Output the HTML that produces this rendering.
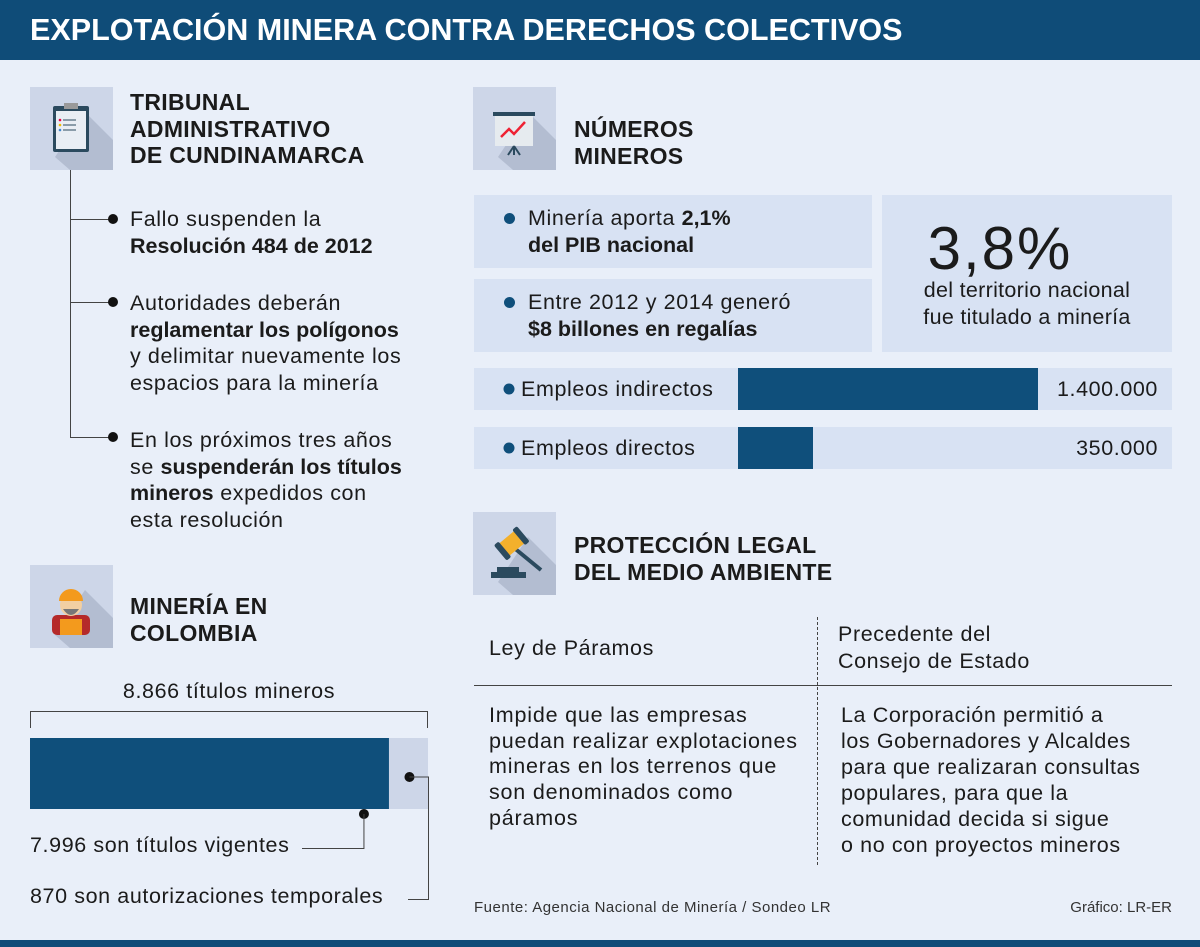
<!DOCTYPE html>
<html><head><meta charset="utf-8">
<style>
*{margin:0;padding:0;box-sizing:border-box}
body{width:1200px;height:947px;background:#e9eff9;font-family:"Liberation Sans",sans-serif;color:#1b1b1b;position:relative;overflow:hidden}
.a{position:absolute;white-space:nowrap}
.t{font-size:21.5px;line-height:26.5px;font-weight:normal;letter-spacing:0.6px}
.b{font-weight:bold;letter-spacing:0}
.h{font-size:23px;line-height:26.5px;font-weight:bold;letter-spacing:0.3px}
.ic{position:absolute;width:83px;height:83px;background:#cdd6e8;overflow:hidden}
.dot{position:absolute;width:10px;height:10px;border-radius:50%;background:#111}
.bdot{position:absolute;width:11px;height:11px;border-radius:50%;background:#0f4f7b}
.box{position:absolute;background:#d8e2f3}
</style></head><body>
<div class="a" style="left:0;top:0;width:1200px;height:60px;background:#0f4c78"></div>
<div class="a" style="left:30px;top:12px;font-size:31px;font-weight:bold;color:#fff;transform:scaleX(0.985);transform-origin:left">EXPLOTACIÓN MINERA CONTRA DERECHOS COLECTIVOS</div>

<!-- Tribunal -->
<div class="ic" style="left:30px;top:87px">
<svg width="83" height="83"><polygon points="55,25 83,53 83,83 40,83 25,70" fill="#b3bdd1"/><rect x="23" y="19" width="36" height="46" rx="2" fill="#2b4a5e"/><rect x="26" y="24" width="30" height="38" fill="#e9eef4"/><rect x="34" y="16" width="14" height="6" fill="#999"/><circle cx="30" cy="33" r="1.3" fill="#e04"/><line x1="33" y1="33" x2="46" y2="33" stroke="#2b4a5e"/><circle cx="30" cy="38" r="1.3" fill="#eb0"/><line x1="33" y1="38" x2="46" y2="38" stroke="#2b4a5e"/><circle cx="30" cy="43" r="1.3" fill="#48c"/><line x1="33" y1="43" x2="46" y2="43" stroke="#2b4a5e"/></svg></div>
<div class="a h" style="left:130px;top:89px">TRIBUNAL<br>ADMINISTRATIVO<br>DE CUNDINAMARCA</div>
<div class="a" style="left:70px;top:170px;width:1px;height:268px;background:#444"></div>
<div class="a" style="left:70px;top:219px;width:42px;height:1px;background:#444"></div>
<div class="a" style="left:70px;top:302px;width:42px;height:1px;background:#444"></div>
<div class="a" style="left:70px;top:437px;width:42px;height:1px;background:#444"></div>
<div class="dot" style="left:108px;top:214px"></div>
<div class="dot" style="left:108px;top:297px"></div>
<div class="dot" style="left:108px;top:432px"></div>
<div class="a t" style="left:130px;top:206px">Fallo suspenden la<br><span class="b">Resolución 484 de 2012</span></div>
<div class="a t" style="left:130px;top:290px">Autoridades deberán<br><span class="b">reglamentar los polígonos</span><br>y delimitar nuevamente los<br>espacios para la minería</div>
<div class="a t" style="left:130px;top:427px">En los próximos tres años<br>se <span class="b">suspenderán los títulos</span><br><span class="b">mineros</span> expedidos con<br>esta resolución</div>

<!-- Mineria en Colombia -->
<div class="ic" style="left:30px;top:565px">
<svg width="83" height="83"><polygon points="55,25 83,53 83,83 40,83 25,70" fill="#b3bdd1"/><rect x="22" y="50" width="38" height="20" rx="5" fill="#b52a2a"/><rect x="30" y="54" width="22" height="16" fill="#f39a1d"/><circle cx="41" cy="40" r="11" fill="#f2cfa2"/><path d="M33,44 Q41,56 49,44" fill="#777"/><path d="M29,36 A12,12 0 0 1 53,36 Z" fill="#f39a1d"/></svg></div>
<div class="a h" style="left:130px;top:593px">MINERÍA EN<br>COLOMBIA</div>
<div class="a t" style="left:30px;width:398px;text-align:center;top:678px">8.866 títulos mineros</div>
<svg class="a" id="tsvg" style="left:0;top:0" width="450" height="947"></svg>
<div class="a t" style="left:30px;top:832px">7.996 son títulos vigentes</div>
<div class="a t" style="left:30px;top:883px">870 son autorizaciones temporales</div>

<!-- Numeros mineros -->
<div class="ic" style="left:473px;top:87px">
<svg width="83" height="83"><polygon points="55,25 83,53 83,83 40,83 25,70" fill="#b3bdd1"/><rect x="20" y="25" width="42" height="4" fill="#2b4a5e"/><rect x="22" y="29" width="38" height="30" fill="#e6ebef"/><polyline points="28,50 36,42 41,47 52,35" fill="none" stroke="#e23" stroke-width="2.5"/><path d="M41,59 V68 M41,59 L35,68 M41,59 L47,68" stroke="#2b4a5e" stroke-width="2"/></svg></div>
<div class="a h" style="left:574px;top:116px">NÚMEROS<br>MINEROS</div>
<div class="box" style="left:474px;top:195px;width:398px;height:73px"></div>
<div class="bdot" style="left:504px;top:213px"></div>
<div class="a t" style="left:528px;top:205px">Minería aporta <span class="b">2,1%</span><br><span class="b">del PIB nacional</span></div>
<div class="box" style="left:474px;top:279px;width:398px;height:73px"></div>
<div class="bdot" style="left:504px;top:297px"></div>
<div class="a t" style="left:528px;top:289px">Entre 2012 y 2014 generó<br><span class="b">$8 billones en regalías</span></div>
<div class="box" style="left:882px;top:195px;width:290px;height:157px"></div>
<div class="a" style="left:855px;width:290px;text-align:center;top:216px;font-size:60px;line-height:66px;letter-spacing:2px">3,8%</div>
<div class="a t" style="left:882px;width:290px;text-align:center;top:277px;letter-spacing:0.3px">del territorio nacional<br>fue titulado a minería</div>
<svg class="a" id="esvg" style="left:0;top:0" width="1200" height="480"></svg>

<!-- Proteccion -->
<div class="ic" style="left:473px;top:512px">
<svg width="83" height="83"><polygon points="55,25 83,53 83,83 40,83 25,70" fill="#b3bdd1"/><rect x="18" y="60" width="35" height="6" fill="#2b4a5e"/><rect x="24" y="55" width="22" height="5" fill="#2b4a5e"/><line x1="40" y1="35" x2="68" y2="58" stroke="#2b4a5e" stroke-width="4"/><g transform="rotate(-40 38 32)"><rect x="28" y="24" width="22" height="16" rx="2" fill="#f3b02c"/><rect x="24" y="22" width="6" height="20" rx="2" fill="#2b4a5e"/><rect x="48" y="22" width="6" height="20" rx="2" fill="#2b4a5e"/></g></svg></div>
<div class="a h" style="left:574px;top:532px">PROTECCIÓN LEGAL<br>DEL MEDIO AMBIENTE</div>
<div class="a t" style="left:489px;top:635px">Ley de Páramos</div>
<div class="a t" style="left:838px;top:621px">Precedente del<br>Consejo de Estado</div>
<div class="a" style="left:817px;top:617px;height:248px;border-left:1px dashed #444"></div>
<div class="a" style="left:474px;top:685px;width:698px;height:1px;background:#444"></div>
<div class="a t" style="left:489px;top:703px;line-height:25.7px;letter-spacing:0.8px">Impide que las empresas<br>puedan realizar explotaciones<br>mineras en los terrenos que<br>son denominados como<br>páramos</div>
<div class="a t" style="left:841px;top:703px;line-height:25.9px;letter-spacing:0.6px">La Corporación permitió a<br>los Gobernadores y Alcaldes<br>para que realizaran consultas<br>populares, para que la<br>comunidad decida si sigue<br>o no con proyectos mineros</div>

<div class="a" style="left:474px;top:899px;font-size:15px;letter-spacing:0.5px;color:#333">Fuente: Agencia Nacional de Minería / Sondeo LR</div>
<div class="a" style="right:28px;top:899px;font-size:15px;color:#333">Gráfico: LR-ER</div>
<div class="a" style="left:0;top:940px;width:1200px;height:7px;background:#0f4c78"></div>

<script>
const titleCats = ["vigentes","temporales"];
const titleVals = [7996, 870];
const titleTotal = [8866];
const empCats = ["Empleos indirectos","Empleos directos"];
const empVals = [1400000, 350000];
const empLabels = ["1.400.000","350.000"];
const empMax = [1400000];

const NS="http://www.w3.org/2000/svg";
function mk(svg,tag,attrs){const e=document.createElementNS(NS,tag);for(const k in attrs)e.setAttribute(k,attrs[k]);svg.appendChild(e);return e;}

const ts=document.getElementById('tsvg');
const tx0=30,tw=398;
const tX=v=>tx0+v/titleTotal[0]*tw;
let r=mk(ts,'rect',{x:tx0,y:738,width:tw,height:71,fill:'#cdd6e8'});


r=mk(ts,'rect',{x:tx0,y:738,width:tX(titleVals[0])-tx0,height:71,fill:'#0f4f7b'});


mk(ts,'path',{d:`M${tx0+0.5},728 V711.5 H${tX(titleTotal[0])-0.5} V728`,fill:'none',stroke:'#444'});
const xv=tX(titleVals[0])-25;
mk(ts,'circle',{cx:xv,cy:814,r:5,fill:'#111'});
mk(ts,'path',{d:`M${xv},814 V848.5 H302`,fill:'none',stroke:'#444'});
const xt=(tX(titleVals[0])+tX(titleTotal[0]))/2+1;
mk(ts,'circle',{cx:xt,cy:777,r:5,fill:'#111'});
mk(ts,'path',{d:`M${xt},777 H428.5 V899.5 H408`,fill:'none',stroke:'#444'});

const es=document.getElementById('esvg');
const ex0=738,ew=300;
const eX=v=>ex0+v/empMax[0]*ew;
empCats.forEach((c,i)=>{
  const y=368+i*59;
  let bg=mk(es,'rect',{x:474,y:y,width:698,height:42,fill:'#d8e2f3'});
  
  
  let b=mk(es,'rect',{x:ex0,y:y,width:eX(empVals[i])-ex0,height:42,fill:'#0f4f7b'});
  
  
  mk(es,'circle',{cx:509,cy:y+21,r:5.5,fill:'#0f4f7b'});
  let t=mk(es,'text',{x:521,y:y+28,'font-size':21.5,'letter-spacing':0.6,'font-family':'Liberation Sans, sans-serif',fill:'#1b1b1b'});
  t.textContent=c;
  
  
  let v=mk(es,'text',{x:1158,y:y+28,'font-size':21.5,'letter-spacing':0.6,'font-family':'Liberation Sans, sans-serif','text-anchor':'end',fill:'#1b1b1b'});
  v.textContent=empLabels[i];
  
  
});
</script>
</body></html>
